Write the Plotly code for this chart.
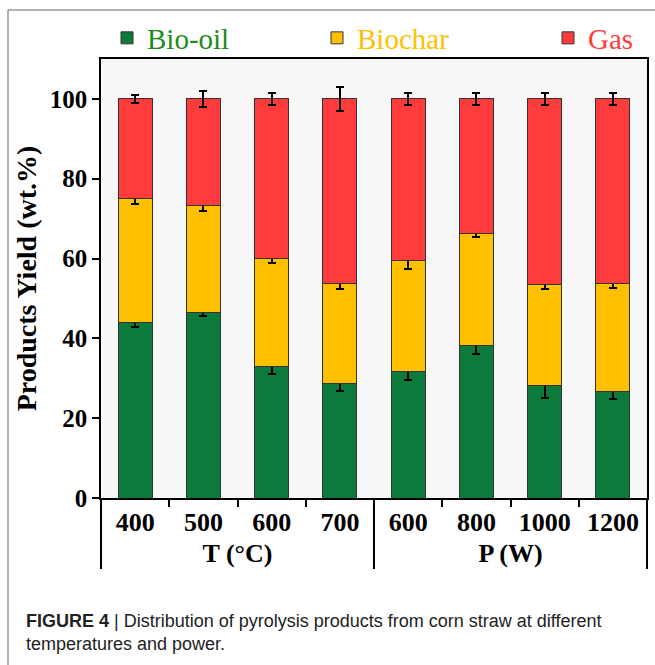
"""Rendimiento de productos de pirolisis (barras apiladas con barras de error)."""

import plotly.graph_objects as go

# Datos
groups = ["T (°C)"] * 4 + ["P (W)"] * 4
conditions = ["400", "500", "600", "700", "600", "800", "1000", "1200"]

bio_oil = [43.9, 46.6, 33.0, 28.8, 31.6, 38.2, 28.1, 26.7]
biochar = [31.2, 26.8, 27.0, 25.0, 28.0, 28.2, 25.3, 27.0]
gas = [24.9, 26.6, 40.0, 46.2, 40.4, 33.6, 46.6, 46.3]

bio_oil_err = [1.0, 1.1, 2.0, 2.0, 2.1, 2.0, 3.1, 2.0]
biochar_err = [1.5, 1.5, 1.0, 1.5, 2.1, 1.1, 1.1, 1.1]
gas_err = [1.1, 2.1, 1.5, 3.0, 1.5, 1.5, 1.5, 1.5]

W, H = 655, 665
ML, MR, MT, MB = 101, 8, 59, 167
PW, PH = W - ML - MR, H - MT - MB


def px_x(px):
    return (px - ML) / PW


def px_y(py):
    return (H - MB - py) / PH


SERIF = "Liberation Serif, Times New Roman, serif"
series = [
    ("Bio-oil", bio_oil, bio_oil_err, "#0b7a3b", "#1c8c1c", "legend", 107),
    ("Biochar", biochar, biochar_err, "#ffc000", "#ffc000", "legend2", 317),
    ("Gas", gas, gas_err, "#ff3b3b", "#ff3b3b", "legend3", 548),
]

fig = go.Figure()
layout_legends = {}
for name, vals, errs, color, txtcolor, leg, lx in series:
    fig.add_trace(go.Bar(
        x=[groups, conditions], y=vals, name=name, legend=leg, showlegend=True,
        marker=dict(color=color, line=dict(color="#333333", width=1)),
        error_y=dict(type="data", array=errs, color="black", thickness=2, width=4),
    ))
    layout_legends[leg] = dict(
        x=px_x(lx), y=px_y(38), xanchor="left", yanchor="middle",
        orientation="h", bgcolor="rgba(0,0,0,0)", visible=True,
        font=dict(family=SERIF, size=29, color=txtcolor),
    )

# Marco exterior
fig.add_shape(type="line", xref="paper", yref="paper",
              x0=px_x(8), x1=px_x(W), y0=px_y(10), y1=px_y(10),
              line=dict(color="#666666", width=1))
fig.add_shape(type="line", xref="paper", yref="paper",
              x0=px_x(8), x1=px_x(8), y0=px_y(10), y1=px_y(H),
              line=dict(color="#666666", width=1))

fig.add_annotation(
    xref="paper", yref="paper", x=px_x(24), y=px_y(632),
    xanchor="left", yanchor="middle", align="left", showarrow=False,
    text="<b>FIGURE 4</b> | Distribution of pyrolysis products from corn straw at different<br>temperatures and power.",
    font=dict(family="Liberation Sans Narrow, Arial Narrow, Arial, sans-serif", size=18, color="#222222"),
)

fig.update_layout(
    barmode="stack", bargap=0.5,
    width=W, height=H, showlegend=True,
    margin=dict(l=ML, r=MR, t=MT, b=MB, autoexpand=False),
    paper_bgcolor="white", plot_bgcolor="#f7f7f7",
    font=dict(family=SERIF, color="black"),
    **layout_legends,
)
fig.update_xaxes(
    type="multicategory", showline=True, linecolor="black", linewidth=1.5, mirror=True,
    ticks="outside", ticklen=7, tickwidth=1.5, tickcolor="black",
    tickfont=dict(family=SERIF, size=26, weight="bold"),
    showdividers=True, dividercolor="black", dividerwidth=1.5,
    showgrid=False, automargin=False,
)
fig.update_yaxes(
    range=[0, 110], tickvals=[0, 20, 40, 60, 80, 100],
    showline=True, linecolor="black", linewidth=1.5, mirror=True,
    ticks="outside", ticklen=7, tickwidth=1.5, tickcolor="black",
    tickfont=dict(family=SERIF, size=25, weight="bold"),
    showgrid=False, zeroline=False, automargin=False,
    title=dict(text="Products Yield (wt.%)", standoff=5,
               font=dict(family=SERIF, size=28, weight="bold")),
)

fig.write_html("out.html", config={"displayModeBar": False},
               post_script="document.body.style.margin='0';")
